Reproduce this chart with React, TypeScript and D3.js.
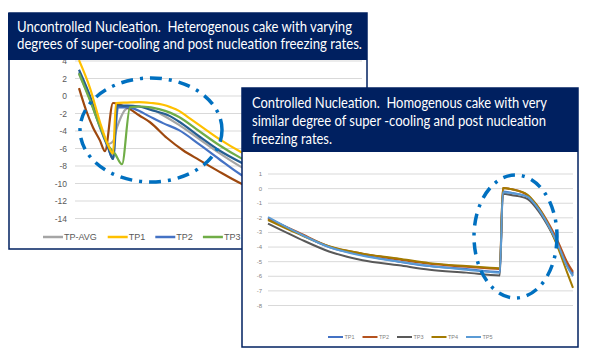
import React from "react";
import * as d3 from "d3";

// ---- uncontrolled nucleation run: [time index, temperature °C] ----
const uncTpAvg: [number, number][] = [
  [0, 2.5], [2.75, -0.4], [5.25, -3.4], [7.25, -5.5], [8.5, -5.2], [9.5, -3.6],
  [10.5, -2.4], [11.5, -1.6], [13, -1.25], [15, -1.2], [18, -1.45], [21, -2.2],
  [25, -3.3], [30, -4.9], [35, -6.5], [40.5, -8.1], [46, -9.4],
];
const uncTp1: [number, number][] = [
  [0, 4.1], [2.75, 0.9], [5.25, -3.0], [7.25, -5.6], [8.5, -6.6], [9.25, -0.8],
  [12, -0.75], [15, -0.7], [18, -0.8], [21, -1.0], [23, -1.3], [25, -1.7],
  [27.5, -2.5], [30, -3.3], [35, -4.9], [40.5, -6.4], [46, -7.6],
];
const uncTp2: [number, number][] = [
  [0, 2.7], [2.75, -0.3], [5.25, -3.6], [7.25, -5.9], [8.5, -7.2], [9.75, -1.3],
  [12, -1.3], [14, -1.5], [17.5, -2.3], [21, -3.1], [25, -3.9], [30, -5.5],
  [35, -7.2], [40.5, -9.0], [46, -10.2],
];
const uncTp3: [number, number][] = [
  [0, 2.6], [2.75, -0.5], [5.25, -3.5], [7.25, -5.6], [9, -6.6], [10.75, -7.8],
  [12.75, -1.3], [15, -1.2], [18, -1.3], [20, -1.5], [22.75, -1.9], [25, -2.4],
  [30, -4.0], [35, -5.6], [40.5, -7.1], [46, -8.3],
];
const uncTp4: [number, number][] = [
  [0, 0.9], [1.75, -1.6], [3.5, -3.6], [5.25, -5.1], [6.5, -6.3], [8.5, -0.8],
  [10.25, -1.0], [12.75, -1.5], [15, -2.2], [17.75, -3.0], [22, -4.8], [26, -6.2],
  [30, -7.3], [34.5, -8.5], [40.5, -10.0], [46, -11.0],
];
const uncTp5: [number, number][] = [
  [0, 3.0], [2.75, 0.0], [5.25, -3.4], [7.25, -5.8], [8.5, -7.2], [9.5, -1.1],
  [12, -1.1], [15, -1.2], [18, -1.6], [22.75, -2.3], [25.25, -3.0], [30, -4.6],
  [35, -6.2], [40.5, -7.6], [46, -8.8],
];
const uncNames = ["TP-AVG", "TP1", "TP2", "TP3", "TP4", "TP5"];
const uncColors = ["#A5A5A5", "#FFC000", "#4472C4", "#70AD47", "#9E480E", "#255E91"];
const uncTicks = [-14, -12, -10, -8, -6, -4, -2, 0, 2, 4];

// ---- controlled nucleation run ----
const ctlTime = [0, 10, 20, 31, 43, 53, 65, 76, 77, 80, 85, 88, 91.5, 95, 98, 100];
const ctlTp1 = [-2.0, -3.05, -4.0, -4.55, -5.0, -5.3, -5.5, -5.7, -0.2, -0.3, -0.55, -1.2, -2.3, -3.7, -5.1, -5.8];
const ctlTp2 = [-2.05, -3.0, -3.95, -4.45, -4.85, -5.15, -5.35, -5.5, 0.05, -0.05, -0.45, -1.1, -2.2, -3.6, -5.0, -5.7];
const ctlTp3 = [-2.4, -3.4, -4.3, -4.9, -5.25, -5.55, -5.75, -5.95, -0.35, -0.45, -0.7, -1.35, -2.45, -3.85, -5.2, -5.9];
const ctlTp4 = [-2.15, -3.1, -3.95, -4.45, -4.8, -5.1, -5.3, -5.45, 0.05, -0.05, -0.4, -1.1, -2.3, -4.0, -5.7, -6.8];
const ctlTp5 = [-1.95, -3.05, -4.0, -4.6, -5.0, -5.3, -5.55, -5.75, -0.25, -0.3, -0.55, -1.2, -2.35, -3.8, -5.3, -6.0];
const ctlNames = ["TP1", "TP2", "TP3", "TP4", "TP5"];
const ctlColors = ["#4472C4", "#B4521E", "#595959", "#A37A00", "#5B9BD5"];
const ctlTicks = [-8, -7, -6, -5, -4, -3, -2, -1, 0, 1];

const uncTitle = [
  "Uncontrolled Nucleation.  Heterogenous cake with varying",
  "degrees of super-cooling and post nucleation freezing rates.",
];
const ctlTitle = [
  "Controlled Nucleation.  Homogenous cake with very",
  "similar degree of super -cooling and post nucleation",
  "freezing rates.",
];

const NAVY = "#002060";
const RING = "#0070C0";
const titleFont = "Lato, 'Open Sans', sans-serif";
const axisFont = "'Liberation Sans', Arial, sans-serif";

export default function App() {
  // left panel
  const xL = d3.scaleLinear().domain([0, 70]).range([79, 359]);
  const yL = d3.scaleLinear().domain([-14, 4]).range([218.5, 61]);
  const lineL = d3
    .line<[number, number]>()
    .x((d) => xL(d[0]))
    .y((d) => yL(d[1]))
    .curve(d3.curveMonotoneX);
  const uncSeries = [uncTpAvg, uncTp1, uncTp2, uncTp3, uncTp4, uncTp5];
  // draw order: avg underneath, TP1 on top
  const uncOrder = [0, 4, 2, 5, 3, 1];

  // right panel
  const xR = d3.scaleLinear().domain([0, 100]).range([268, 573]);
  const yR = d3.scaleLinear().domain([-8, 1]).range([305.5, 174]);
  const lineR = d3
    .line<number>()
    .x((_, i) => xR(ctlTime[i]))
    .y((d) => yR(d))
    .curve(d3.curveMonotoneX);
  const ctlSeries = [ctlTp1, ctlTp2, ctlTp3, ctlTp4, ctlTp5];
  const ctlOrder = [2, 0, 1, 3, 4];

  // legend layout (left): line, label, gap
  let lx = 43;
  const uncLegend = uncNames.map((n, i) => {
    const item = { n, i, x: lx };
    lx += 21 + n.length * 5.7 + 9.5;
    return item;
  });

  return (
    <svg
      width={591}
      height={361}
      style={{ position: "absolute", left: 0, top: 0, background: "#fff" }}
    >
      {/* ===== left panel ===== */}
      <rect x={9} y={13} width={358} height={236} fill="#fff" stroke={NAVY} strokeWidth={1.5} />
      <g>
        {uncTicks.map((t) => (
          <g key={t}>
            <line x1={75} x2={362} y1={yL(t)} y2={yL(t)} stroke="#D9D9D9" strokeWidth={1} />
            <text
              x={67}
              y={yL(t) + 3}
              textAnchor="end"
              fontSize={8.5}
              fill="#595959"
              fontFamily={axisFont}
            >
              {t}
            </text>
          </g>
        ))}
      </g>
      <g fill="none" strokeWidth={2.2} strokeLinejoin="round">
        {uncOrder.map((i) => (
          <path key={i} d={lineL(uncSeries[i]) ?? ""} stroke={uncColors[i]} />
        ))}
      </g>
      <ellipse
        cx={151}
        cy={130}
        rx={71}
        ry={52}
        fill="none"
        stroke={RING}
        strokeWidth={3.5}
        strokeDasharray="12 7 3 7"
      />
      <g fontFamily={axisFont} fontSize={9} fill="#595959">
        {uncLegend.map(({ n, i, x }) => (
          <g key={n}>
            <line x1={x} x2={x + 20} y1={237} y2={237} stroke={uncColors[i]} strokeWidth={2.5} />
            <text x={x + 21} y={240.2}>
              {n}
            </text>
          </g>
        ))}
      </g>
      <rect x={8} y={13} width={359} height={47} fill={NAVY} />
      <g fill="#fff" fontFamily={titleFont} fontSize={15}>
        <text x={17} y={32} textLength={335} lengthAdjust="spacingAndGlyphs" xmlSpace="preserve">
          {uncTitle[0]}
        </text>
        <text x={17} y={48.5} textLength={345} lengthAdjust="spacingAndGlyphs" xmlSpace="preserve">
          {uncTitle[1]}
        </text>
      </g>

      {/* ===== right panel ===== */}
      <rect x={242} y={88} width={336} height={259} fill="#fff" stroke={NAVY} strokeWidth={1.5} />
      <g>
        {ctlTicks.map((t) => (
          <g key={t}>
            <line x1={268} x2={573} y1={yR(t)} y2={yR(t)} stroke="#D9D9D9" strokeWidth={1} />
            <text
              x={262}
              y={yR(t) + 2}
              textAnchor="end"
              fontSize={6}
              fill="#7F7F7F"
              fontFamily={axisFont}
            >
              {t}
            </text>
          </g>
        ))}
      </g>
      <g fill="none" strokeWidth={2} strokeLinejoin="round">
        {ctlOrder.map((i) => (
          <path key={i} d={lineR(ctlSeries[i]) ?? ""} stroke={ctlColors[i]} />
        ))}
      </g>
      <ellipse
        cx={515.5}
        cy={236.5}
        rx={41.5}
        ry={61.5}
        fill="none"
        stroke={RING}
        strokeWidth={3.5}
        strokeDasharray="12 7 3 7"
      />
      <g fontFamily={axisFont} fontSize={5.5} fill="#7F7F7F">
        {ctlNames.map((n, i) => {
          const x = 328 + i * 34.5;
          return (
            <g key={n}>
              <line x1={x} x2={x + 15} y1={337} y2={337} stroke={ctlColors[i]} strokeWidth={2} />
              <text x={x + 16.5} y={339}>
                {n}
              </text>
            </g>
          );
        })}
      </g>
      <rect x={242} y={88} width={336} height={64} fill={NAVY} />
      <g fill="#fff" fontFamily={titleFont} fontSize={15}>
        <text x={252} y={108} textLength={295} lengthAdjust="spacingAndGlyphs" xmlSpace="preserve">
          {ctlTitle[0]}
        </text>
        <text x={252} y={126} textLength={294} lengthAdjust="spacingAndGlyphs" xmlSpace="preserve">
          {ctlTitle[1]}
        </text>
        <text x={252} y={144} textLength={80} lengthAdjust="spacingAndGlyphs" xmlSpace="preserve">
          {ctlTitle[2]}
        </text>
      </g>
    </svg>
  );
}
